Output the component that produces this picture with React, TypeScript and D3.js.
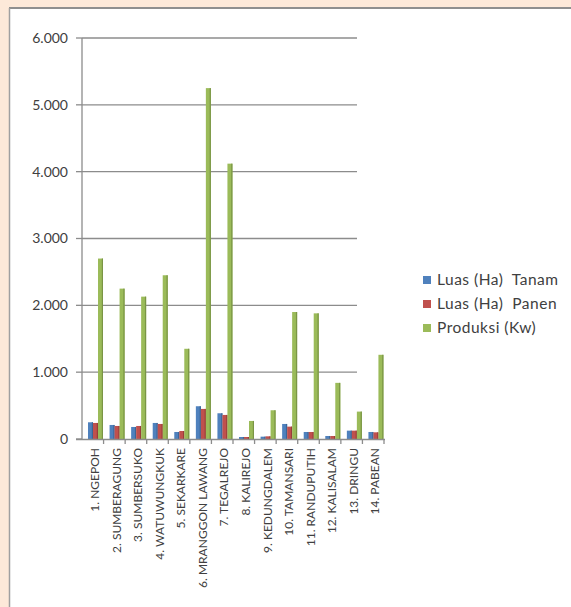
import React from "react";
import * as d3 from "d3";

const categories = [
  "1. NGEPOH", "2. SUMBERAGUNG", "3. SUMBERSUKO", "4. WATUWUNGKUK", "5. SEKARKARE",
  "6. MRANGGON LAWANG", "7. TEGALREJO", "8. KALIREJO", "9. KEDUNGDALEM", "10. TAMANSARI",
  "11. RANDUPUTIH", "12. KALISALAM", "13. DRINGU", "14. PABEAN",
];
const luasTanam = [250, 210, 180, 240, 105, 490, 385, 30, 35, 225, 105, 45, 125, 105];
const luasPanen = [240, 195, 195, 225, 120, 450, 360, 30, 40, 185, 105, 45, 125, 100];
const produksi = [2700, 2250, 2130, 2450, 1350, 5250, 4120, 270, 430, 1900, 1880, 840, 410, 1260];
const yTicks = [0, 1000, 2000, 3000, 4000, 5000, 6000];
const seriesNames = ["Luas (Ha)  Tanam", "Luas (Ha)  Panen", "Produksi (Kw)"];
const seriesColors = ["#4f81bd", "#c0504d", "#9bbb59"];
const seriesDark = ["#3c6595", "#983d3a", "#7a9545"];

const W = 571, H = 607;
const FONT = "Lato, 'Open Sans', sans-serif";

export default function App() {
  const x = d3.scaleBand<string>().domain(categories).range([82, 384]).padding(0);
  const y = d3.scaleLinear().domain([0, 6000]).range([439, 38]);
  const series = [luasTanam, luasPanen, produksi];
  const barW = 5;
  const fmt = (v: number) => (v === 0 ? "0" : d3.format(",")(v).replace(/,/g, "."));

  return (
    <svg width={W} height={H} style={{ position: "absolute", left: 0, top: 0 }} fontFamily={FONT}>
      <rect x={0} y={0} width={W} height={H} fill="#fde9d9" />
      <rect x={9} y={8} width={W - 9} height={H - 8} fill="#ffffff" />
      <line x1={9} y1={8} x2={W} y2={8} stroke="#8f8f8f" strokeWidth={2} />
      <line x1={9.5} y1={8} x2={9.5} y2={H} stroke="#a0a0a0" strokeWidth={1.5} />

      {/* gridlines */}
      {yTicks.filter((t) => t > 0).map((t) => (
        <line key={"g" + t} x1={82} x2={357} y1={y(t)} y2={y(t)} stroke="#8c8c8c" strokeWidth={1.3} />
      ))}
      {/* y axis */}
      <line x1={82} x2={82} y1={y(6000)} y2={y(0)} stroke="#8c8c8c" strokeWidth={1.3} />
      {yTicks.map((t) => (
        <g key={"t" + t}>
          <line x1={76} x2={82} y1={y(t)} y2={y(t)} stroke="#8c8c8c" strokeWidth={1.3} />
          <text x={68} y={y(t)} dy="0.35em" textAnchor="end" fontSize={14} fill="#404040">
            {fmt(t)}
          </text>
        </g>
      ))}

      {/* bars */}
      {series.map((vals, si) =>
        vals.map((v, i) => {
          const bx = (x(categories[i]) as number) + 6 + si * barW;
          const top = y(v);
          const h = y(0) - top;
          return (
            <g key={`b${si}-${i}`}>
              <rect x={bx} y={top} width={barW} height={h} fill={seriesColors[si]} />
              <rect x={bx + barW - 1.2} y={top} width={1.2} height={h} fill={seriesDark[si]} />
            </g>
          );
        })
      )}

      {/* x axis */}
      <line x1={76} x2={385} y1={y(0) + 0.5} y2={y(0) + 0.5} stroke="#8c8c8c" strokeWidth={1.3} />
      {categories.map((c, i) => (
        <line key={"xt" + i} x1={(x(c) as number) + x.bandwidth()} x2={(x(c) as number) + x.bandwidth()}
          y1={y(0)} y2={y(0) + 5} stroke="#8c8c8c" strokeWidth={1.3} />
      ))}
      {categories.map((c) => {
        const cx = (x(c) as number) + x.bandwidth() / 2 + 2;
        return (
          <text key={"xl" + c} transform={`translate(${cx},448) rotate(-90)`} textAnchor="end"
            dy="0.35em" fontSize={12} fill="#404040">
            {c}
          </text>
        );
      })}

      {/* legend */}
      {seriesNames.map((n, i) => (
        <g key={"l" + i} transform={`translate(423,${280 + i * 24})`}>
          <rect x={0} y={-4} width={8} height={8} fill={seriesColors[i]} />
          <text x={14} y={0} dy="0.35em" fontSize={15.5} letterSpacing={0.5} fill="#404040"
            style={{ whiteSpace: "pre" }}>
            {n}
          </text>
        </g>
      ))}
    </svg>
  );
}
